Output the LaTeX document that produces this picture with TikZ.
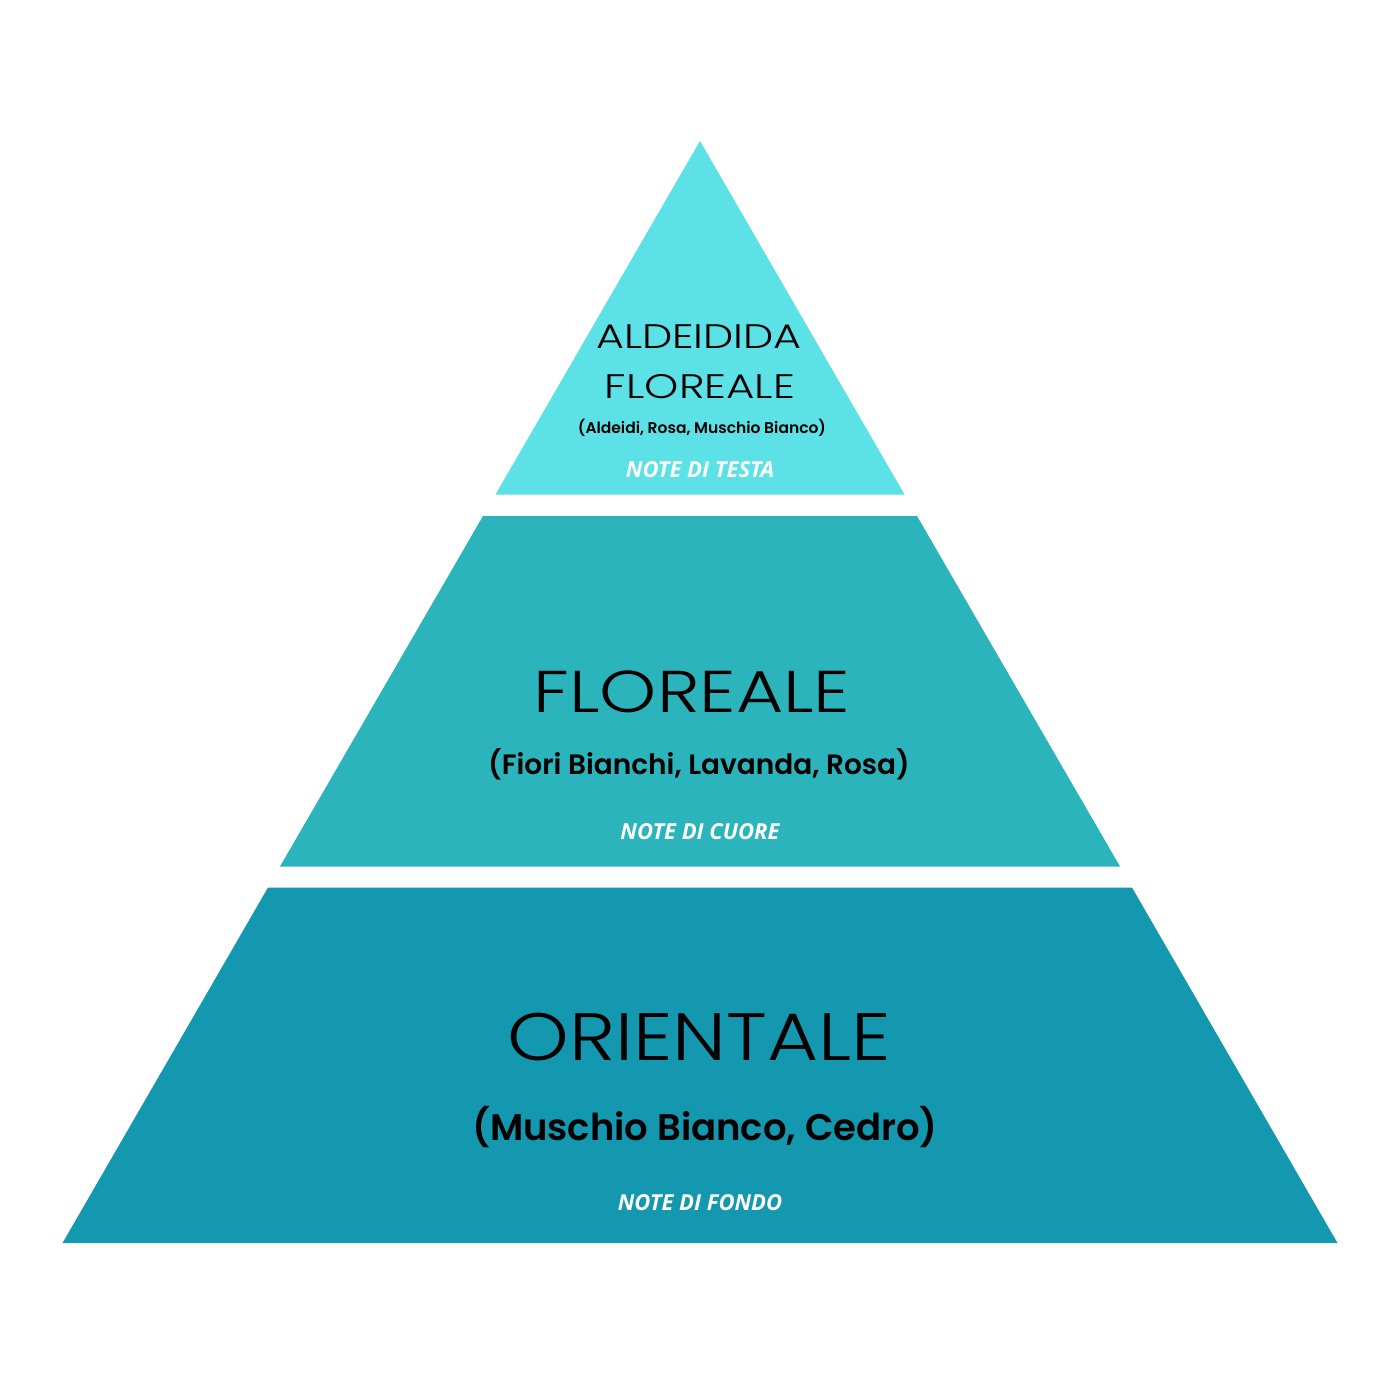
\documentclass[tikz,border=0pt]{standalone}
\usepackage{fontspec}
\newfontfamily\titlefont{Poppins}[UprightFont={* Light}]
\newfontfamily\subfont{Poppins}[UprightFont={* SemiBold}]
\newfontfamily\notefont{Open Sans}
\definecolor{topc}{HTML}{5CE1E6}
\definecolor{midc}{HTML}{2BB4BC}
\definecolor{botc}{HTML}{1398AF}
\begin{document}
\begin{tikzpicture}[x=1pt,y=-1pt,
  title/.style={inner sep=0pt, text=black, font=\titlefont},
  sub/.style={inner sep=0pt, text=black, font=\subfont},
  note/.style={inner sep=0pt, text=white, font=\notefont\bfseries\itshape\fontsize{22}{26}\selectfont}]
\useasboundingbox[fill=white] (0,0) rectangle (1400,1400);
\fill[topc] (700,141) -- (904.5,494.5) -- (495.5,494.5) -- cycle;
\fill[midc] (483,516) -- (917,516) -- (1120,866.5) -- (280,866.5) -- cycle;
\fill[botc] (268,887.5) -- (1132,887.5) -- (1337.5,1243) -- (62.5,1243) -- cycle;
% top
\node[title, font=\titlefont\fontsize{34}{40}\selectfont] (t1) at (699,337) {\scalebox{1.26}[1]{ALDEIDIDA}};
\node[title, font=\titlefont\fontsize{34}{40}\selectfont] (t2) at (700,387) {\scalebox{1.28}[1]{FLOREALE}};
\node[sub, font=\subfont\fontsize{15.5}{18}\selectfont] (t3) at (702,428) {(Aldeidi, Rosa, Muschio Bianco)};
\node[note] (t4) at (700,470) {NOTE DI TESTA};
% middle
\node[title, font=\titlefont\fontsize{59}{64}\selectfont] (m1) at (692,692) {\scalebox{1.23}[1]{FLOREALE}};
\node[sub, font=\subfont\fontsize{28}{32}\selectfont] (m2) at (699,764) {(Fiori Bianchi, Lavanda, Rosa)};
\node[note] (m3) at (700,832) {NOTE DI CUORE};
% bottom
\node[title, font=\titlefont\fontsize{67}{72}\selectfont] (b1) at (699,1037) {\scalebox{1.17}[1]{ORIENTALE}};
\node[sub, font=\subfont\fontsize{37}{42}\selectfont] (b2) at (705,1127) {(Muschio Bianco, Cedro)};
\node[note] (b3) at (700,1203) {NOTE DI FONDO};
\end{tikzpicture}
\end{document}
